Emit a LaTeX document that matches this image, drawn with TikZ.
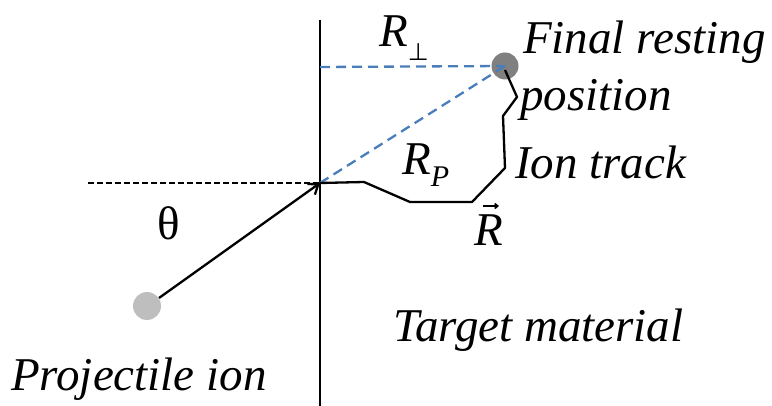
\documentclass[tikz,border=0pt]{standalone}
\usepackage{fontspec}
\setmainfont{Liberation Serif}[ItalicFont={Liberation Serif Italic}]
\newfontfamily\symfnt{DejaVu Sans}
\usetikzlibrary{arrows.meta}
\begin{document}
\begin{tikzpicture}[x=1pt,y=-1pt,
  lbl/.style={font=\fontsize{47}{54}\selectfont\itshape, inner sep=0pt, anchor=base west},
  sym/.style={font=\fontsize{47}{54}\selectfont, inner sep=0pt},
  blued/.style={draw={rgb,255:red,74;green,126;blue,187}, line width=2.3pt, dash pattern=on 10pt off 6pt},
  blackd/.style={draw=black, line width=2.2pt, dash pattern=on 6pt off 3pt},
  solid line/.style={draw=black, line width=2.3pt, line join=round},
  dot/.style={circle, minimum size=28pt, inner sep=0pt}]
\useasboundingbox (0,0) rectangle (772,406);
% surface
\coordinate (stop) at (320,20);
\coordinate (sbot) at (320,406);
\draw[solid line] (stop) -- (sbot);
\coordinate (entry) at (320,183);
\coordinate (nleft) at (88,183);
\draw[blackd] (nleft) -- (entry);
% dots
\node[dot, fill={rgb,255:red,190;green,190;blue,190}] (proj) at (147,306) {};
\node[dot, minimum size=27pt, fill={rgb,255:red,128;green,128;blue,128}] (final) at (505,66) {};
% blue dashed
\coordinate (perpL) at (320,67);
\draw[blued] (perpL) -- (final.center);
\draw[blued] (entry) -- (final.center);
% incoming arrow
\draw[solid line, -{Straight Barb[length=9pt,width=13pt]}] (proj.center) ++(12,-8) -- (entry);
% ion track
\coordinate (t1) at (364,182);
\coordinate (t2) at (410,202);
\coordinate (t3) at (472,202);
\coordinate (t4) at (505,168);
\coordinate (t5) at (503,116);
\coordinate (t6) at (517,97);
\coordinate (t7) at (505,70);
\draw[solid line] (entry) -- (t1) -- (t2) -- (t3) -- (t4) -- (t5) -- (t6) -- (t7);
% labels
\node[lbl] (fin) at (523,54) {Final resting};
\node[lbl] (pos) at (520,111) {position};
\node[lbl] (ion) at (515,179) {Ion track};
\node[lbl] (tgt) at (393,342) {Target material};
\node[lbl] (pri) at (11,391) {Projectile ion};
\node[lbl] (rperp) at (379,47) {R\raisebox{-14pt}{\symfnt\fontsize{24}{26}\selectfont ⊥}};
\node[lbl] (rp) at (402,175) {R\raisebox{-12pt}{\fontsize{30}{32}\selectfont P}};
\node[lbl] (rvec) at (474,246) {R};
\draw[line width=1.6pt, -{Straight Barb[length=3pt,width=5pt]}] (rvec.north west) ++(9,-9) coordinate (va) -- ++(16,0) coordinate (vb);
\node[sym] (theta) at (169,223) {θ};
\end{tikzpicture}
\end{document}
